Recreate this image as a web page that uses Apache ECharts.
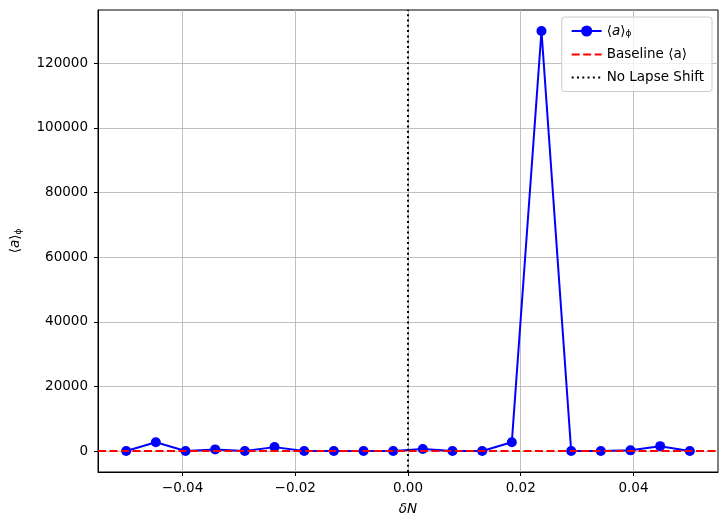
<!DOCTYPE html>
<html>
<head>
<meta charset="utf-8">
<script src="https://cdn.jsdelivr.net/npm/echarts@6/dist/echarts.min.js"></script>
<style>
  html, body { margin: 0; padding: 0; background: #fff; }
  #chart { width: 727px; height: 525px; }
</style>
</head>
<body>
<div id="chart"></div>
<script>
// δN 取样点
const deltaN = [-0.05, -0.04474, -0.03947, -0.03421, -0.02895, -0.02368, -0.01842, -0.01316, -0.00789, -0.00263,
                0.00263, 0.00789, 0.01316, 0.01842, 0.02368, 0.02895, 0.03421, 0.03947, 0.04474, 0.05];
// <a>_phi
const avgA = [0, 2700, 0, 500, 0, 1200, 0, 0, 0, 0,
              600, 0, 0, 2700, 130000, 0, 0, 200, 1500, 0];
const baseline = 0;
const noShift = 0;

const xTicks = [-0.04, -0.02, 0, 0.02, 0.04];
const yTicks = [0, 20000, 40000, 60000, 80000, 100000, 120000];

const font = 'DejaVu Sans';
const fmtX = v => v.toFixed(2).replace('-', '\u2212');

const chart = echarts.init(document.getElementById('chart'));
chart.setOption({
  animation: false,
  textStyle: { fontFamily: font },
  grid: { left: 98, right: 9, top: 10, bottom: 53, show: true, borderColor: '#000', borderWidth: 1 },
  legend: {
    orient: 'vertical',
    right: 15,
    top: 17,
    padding: [7, 8, 7, 9],
    itemGap: 9,
    itemWidth: 30,
    itemHeight: 14,
    borderColor: '#cccccc',
    borderWidth: 1,
    borderRadius: 3,
    backgroundColor: 'rgba(255,255,255,0.8)',
    textStyle: {
      fontFamily: font, fontSize: 13.5, color: '#000',
      rich: {
        it: { fontStyle: 'italic', fontSize: 13.5, fontFamily: font },
        sub: { fontSize: 9, verticalAlign: 'bottom', padding: [6, 0, 0, 0], fontFamily: font }
      }
    },
    formatter: name => name === 'avg' ? '\u27e8{it|a}\u27e9{sub|\u03d5}' : name,
    data: [
      'avg',
      { name: 'Baseline \u27e8a\u27e9', itemStyle: { opacity: 0 } },
      { name: 'No Lapse Shift', itemStyle: { opacity: 0 } }
    ]
  },
  xAxis: {
    type: 'value',
    min: -0.055,
    max: 0.055,
    name: '{it|\u03b4N}',
    nameLocation: 'middle',
    nameGap: 30,
    nameTextStyle: { rich: { it: { fontStyle: 'italic', fontSize: 13.5, fontFamily: font, color: '#000' } } },
    axisLine: { onZero: false, lineStyle: { color: '#000' } },
    axisTick: { length: 4, lineStyle: { color: '#000' }, customValues: xTicks },
    axisLabel: { color: '#000', fontSize: 13.5, margin: 9, customValues: xTicks, formatter: fmtX },
    splitLine: { show: true, lineStyle: { color: '#b0b0b0', width: 0.8 } }
  },
  yAxis: {
    type: 'value',
    min: -6500,
    max: 136500,
    name: '\u27e8{it|a}\u27e9{sub|\u03d5}',
    nameLocation: 'middle',
    nameRotate: 90,
    nameGap: 75,
    nameTextStyle: {
      color: '#000', fontSize: 13.5,
      rich: {
        it: { fontStyle: 'italic', fontSize: 13.5, fontFamily: font, color: '#000' },
        sub: { fontSize: 9, verticalAlign: 'bottom', padding: [6, 0, 0, 0], fontFamily: font, color: '#000' }
      }
    },
    axisLine: { show: true, onZero: false, lineStyle: { color: '#000' } },
    axisTick: { show: true, length: 4, lineStyle: { color: '#000' }, customValues: yTicks },
    axisLabel: { color: '#000', fontSize: 13.5, margin: 10, customValues: yTicks, formatter: v => String(v) },
    splitLine: { show: true, lineStyle: { color: '#b0b0b0', width: 0.8 } }
  },
  series: [
    {
      name: 'avg',
      type: 'line',
      z: 2,
      data: deltaN.map((x, i) => [x, avgA[i]]),
      symbol: 'circle',
      symbolSize: 10,
      color: '#0000ff',
      lineStyle: { color: '#0000ff', width: 2 },
      itemStyle: { color: '#0000ff' }
    },
    {
      name: 'Baseline \u27e8a\u27e9',
      type: 'line',
      z: 3,
      data: [],
      symbol: 'none',
      color: '#ff0000',
      lineStyle: { color: '#ff0000', width: 2, type: [8, 3.5] },
      markLine: {
        silent: true, symbol: 'none', label: { show: false },
        lineStyle: { color: '#ff0000', width: 2, type: [8, 3.5] },
        data: [{ yAxis: baseline }]
      }
    },
    {
      name: 'No Lapse Shift',
      type: 'line',
      z: 4,
      data: [],
      symbol: 'none',
      color: '#000',
      lineStyle: { color: '#000', width: 2, type: [2, 3.3] },
      markLine: {
        silent: true, symbol: 'none', label: { show: false },
        lineStyle: { color: '#000', width: 2, type: [2, 3.3] },
        data: [{ xAxis: noShift }]
      }
    }
  ]
});
</script>
</body>
</html>
